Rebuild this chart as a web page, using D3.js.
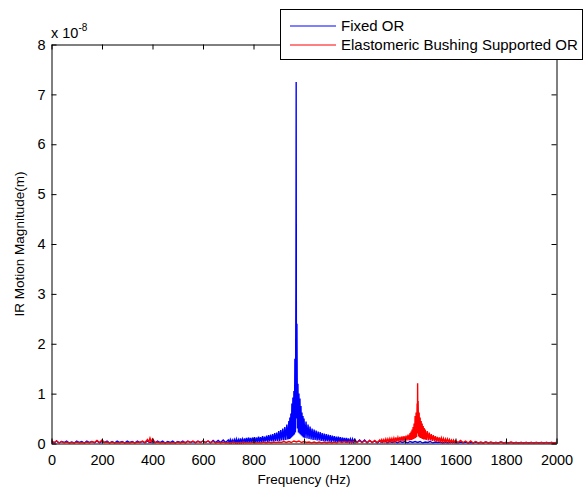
<!DOCTYPE html>
<html>
<head>
<meta charset="utf-8">
<script src="https://cdn.jsdelivr.net/npm/d3@7/dist/d3.min.js"></script>
<style>
  html, body { margin: 0; padding: 0; background: #fff; }
  svg { display: block; font-family: "Liberation Sans", Arial, Helvetica, sans-serif; }
</style>
</head>
<body>
<svg id="chart" width="584" height="489"></svg>
<script>
// Axis ticks (frequency in Hz, magnitude in units of 1e-8 m)
const xTicks = [0, 200, 400, 600, 800, 1000, 1200, 1400, 1600, 1800, 2000];
const yTicks = [0, 1, 2, 3, 4, 5, 6, 7, 8];
const yExponent = "-8";

const seriesNames = ["Fixed OR", "Elastomeric Bushing Supported OR"];
const seriesColors = ["#0000ff", "#ff0000"];

// Fixed outer ring: [frequency (Hz), magnitude (1e-8 m)]
const fixedOR = [
  [0,0.04],[10,0.01],[20,0.05],[30,0.01],[40,0.04],[50,0.02],[60,0.05],[70,0.01],[80,0.03],[90,0.01],
  [100,0.05],[110,0.02],[120,0.04],[130,0.01],[140,0.05],[150,0.02],[160,0.04],[170,0.01],[180,0.05],[190,0.01],
  [200,0.04],[210,0.02],[220,0.05],[230,0.01],[240,0.04],[250,0.01],[260,0.05],[270,0.02],[280,0.04],[290,0.01],
  [300,0.05],[310,0.02],[320,0.04],[330,0.01],[340,0.05],[350,0.02],[360,0.04],[370,0.01],[380,0.05],[390,0.02],
  [400,0.04],[410,0.01],[420,0.05],[430,0.02],[440,0.05],[450,0.01],[460,0.04],[470,0.02],[480,0.05],[490,0.01],
  [500,0.04],[510,0.02],[520,0.05],[530,0.01],[540,0.05],[550,0.02],[560,0.04],[570,0.01],[580,0.05],[590,0.02],
  [600,0.05],[610,0.02],[620,0.05],[630,0.01],[640,0.06],[650,0.02],[660,0.06],[670,0.02],[680,0.07],[690,0.02],
  [700,0.07],[704,0.02],[708,0.08],[712,0.01],[716,0.07],[720,0.02],[724,0.08],[728,0.02],[732,0.09],[736,0.01],
  [740,0.08],[744,0.02],[748,0.10],[752,0.02],[756,0.09],[760,0.02],[764,0.10],[768,0.02],[772,0.11],[776,0.02],
  [780,0.12],[784,0.03],[788,0.11],[792,0.02],[796,0.12],[800,0.03],[804,0.13],[808,0.02],[812,0.12],[816,0.03],
  [820,0.14],[824,0.03],[828,0.13],[832,0.03],[836,0.15],[840,0.03],[844,0.14],[848,0.04],[852,0.16],[856,0.03],
  [860,0.17],[864,0.04],[868,0.18],[872,0.04],[876,0.19],[880,0.04],[884,0.21],[888,0.05],[892,0.22],[896,0.05],
  [900,0.25],[904,0.05],[908,0.27],[912,0.06],[916,0.30],[920,0.06],[924,0.33],[928,0.07],[932,0.38],[936,0.08],
  [940,0.45],[942,0.09],[944,0.52],[946,0.10],[948,0.60],[950,0.12],[952,0.80],[954,0.14],[956,0.92],[958,0.16],
  [960,1.05],[962,0.18],[964,1.70],[966,0.22],[968,3.20],[969,7.25],[970,0.50],[972,2.40],[974,0.30],[976,1.20],
  [978,0.22],[980,1.00],[982,0.20],[984,0.90],[986,0.18],[988,0.75],[990,0.16],[992,0.62],[994,0.14],[996,0.55],
  [998,0.12],[1000,0.50],[1004,0.11],[1008,0.44],[1012,0.10],[1016,0.38],[1020,0.09],[1024,0.34],[1028,0.08],[1032,0.30],
  [1036,0.07],[1040,0.28],[1044,0.07],[1048,0.26],[1052,0.06],[1056,0.24],[1060,0.06],[1064,0.23],[1068,0.05],[1072,0.21],
  [1076,0.05],[1080,0.20],[1084,0.04],[1088,0.19],[1092,0.04],[1096,0.18],[1100,0.04],[1104,0.17],[1108,0.03],[1112,0.16],
  [1116,0.04],[1120,0.15],[1124,0.03],[1128,0.14],[1132,0.03],[1136,0.14],[1140,0.03],[1144,0.13],[1148,0.02],[1152,0.12],
  [1156,0.03],[1160,0.11],[1164,0.02],[1168,0.11],[1172,0.02],[1176,0.10],[1180,0.02],[1184,0.09],[1188,0.02],[1192,0.09],
  [1196,0.02],[1200,0.08],[1210,0.02],[1220,0.07],[1230,0.02],[1240,0.07],[1250,0.01],[1260,0.06],[1270,0.02],[1280,0.05],
  [1290,0.01],[1300,0.05],[1310,0.02],[1320,0.05],[1330,0.01],[1340,0.04],[1350,0.02],[1360,0.04],[1370,0.01],[1380,0.04],
  [1390,0.02],[1400,0.04],[1410,0.01],[1420,0.04],[1430,0.02],[1440,0.04],[1450,0.02],[1460,0.04],[1470,0.01],[1480,0.03],
  [1490,0.02],[1500,0.04],[1510,0.01],[1520,0.03],[1530,0.02],[1540,0.03],[1550,0.01],[1560,0.03],[1570,0.01],[1580,0.03],
  [1590,0.02],[1600,0.03],[1610,0.01],[1620,0.03],[1630,0.01],[1640,0.03],[1650,0.01],[1660,0.02],[1670,0.01],[1680,0.03],
  [1690,0.01],[1700,0.02],[1710,0.01],[1720,0.03],[1730,0.01],[1740,0.02],[1750,0.01],[1760,0.02],[1770,0.01],[1780,0.03],
  [1790,0.01],[1800,0.02],[1810,0.01],[1820,0.02],[1830,0.01],[1840,0.02],[1850,0.01],[1860,0.02],[1870,0.01],[1880,0.02],
  [1890,0.01],[1900,0.02],[1910,0.01],[1920,0.02],[1930,0.01],[1940,0.02],[1950,0.01],[1960,0.02],[1970,0.01],[1980,0.02],
  [1990,0.01],[2000,0.02]
];

// Outer ring on elastomeric bushings: [frequency (Hz), magnitude (1e-8 m)]
const bushingOR = [
  [0,0.06],[10,0.02],[20,0.05],[30,0.01],[40,0.04],[50,0.01],[60,0.03],[70,0.01],[80,0.02],[90,0.01],
  [100,0.03],[110,0.01],[120,0.02],[130,0.01],[140,0.03],[150,0.01],[160,0.04],[170,0.02],[180,0.06],[190,0.02],
  [200,0.07],[210,0.02],[220,0.03],[230,0.01],[240,0.03],[250,0.01],[260,0.02],[270,0.01],[280,0.03],[290,0.01],
  [300,0.02],[310,0.01],[320,0.03],[330,0.01],[340,0.03],[350,0.02],[360,0.05],[370,0.02],[380,0.08],[385,0.03],
  [390,0.11],[395,0.03],[400,0.09],[410,0.02],[420,0.03],[430,0.01],[440,0.02],[450,0.01],[460,0.02],[470,0.01],
  [480,0.02],[490,0.01],[500,0.03],[510,0.01],[520,0.03],[530,0.02],[540,0.04],[550,0.02],[560,0.05],[570,0.02],
  [580,0.04],[590,0.02],[600,0.05],[610,0.02],[620,0.05],[630,0.02],[640,0.04],[650,0.01],[660,0.03],[670,0.01],
  [680,0.03],[690,0.01],[700,0.02],[710,0.01],[720,0.03],[730,0.01],[740,0.02],[750,0.01],[760,0.03],[770,0.01],
  [780,0.02],[790,0.01],[800,0.03],[810,0.01],[820,0.02],[830,0.01],[840,0.03],[850,0.01],[860,0.03],[870,0.01],
  [880,0.03],[890,0.02],[900,0.03],[910,0.02],[920,0.04],[930,0.02],[940,0.04],[950,0.02],[960,0.05],[970,0.03],
  [980,0.05],[990,0.02],[1000,0.04],[1010,0.02],[1020,0.03],[1030,0.01],[1040,0.03],[1050,0.01],[1060,0.03],[1070,0.01],
  [1080,0.03],[1090,0.01],[1100,0.03],[1110,0.01],[1120,0.03],[1130,0.01],[1140,0.04],[1150,0.02],[1160,0.04],[1170,0.02],
  [1180,0.04],[1190,0.02],[1200,0.05],[1210,0.02],[1220,0.05],[1230,0.02],[1240,0.05],[1250,0.02],[1260,0.06],[1270,0.02],
  [1280,0.06],[1290,0.02],[1300,0.07],[1304,0.03],[1308,0.08],[1312,0.03],[1316,0.08],[1320,0.03],[1324,0.09],[1328,0.03],
  [1332,0.09],[1336,0.03],[1340,0.10],[1344,0.04],[1348,0.10],[1352,0.04],[1356,0.11],[1360,0.04],[1364,0.12],[1368,0.04],
  [1372,0.12],[1376,0.05],[1380,0.13],[1384,0.05],[1388,0.14],[1392,0.05],[1396,0.15],[1400,0.05],[1404,0.16],[1408,0.06],
  [1412,0.18],[1416,0.06],[1420,0.21],[1422,0.07],[1424,0.24],[1426,0.07],[1428,0.28],[1430,0.08],[1432,0.33],[1434,0.09],
  [1436,0.40],[1438,0.10],[1440,0.55],[1442,0.11],[1444,0.62],[1446,0.13],[1448,0.80],[1449,0.20],[1450,1.21],[1451,0.25],
  [1452,0.85],[1454,0.14],[1456,0.62],[1458,0.12],[1460,0.52],[1462,0.11],[1464,0.45],[1466,0.10],[1468,0.40],[1470,0.09],
  [1472,0.35],[1474,0.08],[1476,0.31],[1478,0.08],[1480,0.28],[1484,0.07],[1488,0.25],[1492,0.06],[1496,0.22],[1500,0.06],
  [1504,0.19],[1508,0.05],[1512,0.17],[1516,0.05],[1520,0.15],[1524,0.04],[1528,0.13],[1532,0.04],[1536,0.12],[1540,0.04],
  [1544,0.11],[1548,0.03],[1552,0.10],[1556,0.03],[1560,0.09],[1564,0.03],[1568,0.09],[1572,0.03],[1576,0.08],[1580,0.02],
  [1584,0.07],[1588,0.02],[1592,0.07],[1596,0.02],[1600,0.06],[1610,0.02],[1620,0.06],[1630,0.02],[1640,0.05],[1650,0.01],
  [1660,0.05],[1670,0.01],[1680,0.04],[1690,0.01],[1700,0.03],[1710,0.01],[1720,0.03],[1730,0.01],[1740,0.03],[1750,0.01],
  [1760,0.02],[1770,0.01],[1780,0.03],[1790,0.01],[1800,0.02],[1810,0.01],[1820,0.03],[1830,0.01],[1840,0.02],[1850,0.01],
  [1860,0.02],[1870,0.01],[1880,0.02],[1890,0.01],[1900,0.02],[1910,0.01],[1920,0.02],[1930,0.01],[1940,0.02],[1950,0.01],
  [1960,0.02],[1970,0.01],[1980,0.02],[1990,0.01],[2000,0.02]
];

const svg = d3.select("#chart");
const plot = { left: 51.5, right: 556.5, top: 44.5, bottom: 443.5 };
const tickFont = 14.5;
const labelFont = 13.5;
const legendFont = 15;
const tickLen = 5;

const x = d3.scaleLinear().domain([0, 2000]).range([plot.left, plot.right]);
const y = d3.scaleLinear().domain([0, 8]).range([plot.bottom, plot.top]);

svg.append("defs").append("clipPath").attr("id", "plot-clip")
  .append("rect")
  .attr("x", plot.left).attr("y", plot.top)
  .attr("width", plot.right - plot.left).attr("height", plot.bottom - plot.top);

// Spectra: fixed ring first, bushing-supported ring on top
const line = d3.line().x(d => x(d[0])).y(d => y(d[1]));
const dataGroup = svg.append("g").attr("clip-path", "url(#plot-clip)");
[fixedOR, bushingOR].forEach((series, i) => {
  dataGroup.append("path")
    .datum(series)
    .attr("d", line)
    .attr("fill", "none")
    .attr("stroke", seriesColors[i])
    .attr("stroke-width", 1.4)
    .attr("stroke-linejoin", "miter");
});

// Axes box with inward ticks on all four sides
function styleAxis(g) {
  g.selectAll(".domain").attr("stroke", "#000").attr("stroke-width", 1);
  g.selectAll(".tick line").attr("stroke", "#000").attr("stroke-width", 1);
  g.selectAll(".tick text").attr("fill", "#000").style("font-size", tickFont + "px")
    .style("font-family", '"Liberation Sans", Arial, sans-serif');
}

const intFormat = d3.format("d");

svg.append("g").attr("transform", `translate(0,${plot.bottom})`)
  .call(d3.axisBottom(x).tickValues(xTicks).tickSizeInner(-tickLen).tickSizeOuter(0).tickPadding(11).tickFormat(intFormat))
  .call(styleAxis);

svg.append("g").attr("transform", `translate(0,${plot.top})`)
  .call(d3.axisTop(x).tickValues(xTicks).tickSizeInner(-tickLen).tickSizeOuter(0).tickFormat(""))
  .call(styleAxis);

svg.append("g").attr("transform", `translate(${plot.left},0)`)
  .call(d3.axisLeft(y).tickValues(yTicks).tickSizeInner(-tickLen).tickSizeOuter(0).tickPadding(6).tickFormat(intFormat))
  .call(styleAxis);

svg.append("g").attr("transform", `translate(${plot.right},0)`)
  .call(d3.axisRight(y).tickValues(yTicks).tickSizeInner(-tickLen).tickSizeOuter(0).tickFormat(""))
  .call(styleAxis);

// Exponent note above the y axis
const expText = svg.append("text")
  .attr("x", 51).attr("y", 38)
  .style("font-size", tickFont + "px").attr("fill", "#000");
expText.append("tspan").text("x 10");
expText.append("tspan").attr("dy", -7).style("font-size", "10px").text(yExponent);

// Axis labels
svg.append("text")
  .attr("x", (plot.left + plot.right) / 2).attr("y", 484)
  .attr("text-anchor", "middle")
  .style("font-size", labelFont + "px").attr("fill", "#000")
  .text("Frequency (Hz)");

svg.append("text")
  .attr("transform", `translate(24,${(plot.top + plot.bottom) / 2}) rotate(-90)`)
  .attr("text-anchor", "middle")
  .style("font-size", labelFont + "px").attr("fill", "#000")
  .text("IR Motion Magnitude(m)");

// Legend
const legend = svg.append("g");
legend.append("rect")
  .attr("x", 280.5).attr("y", 9.5).attr("width", 302).attr("height", 50)
  .attr("fill", "#fff").attr("stroke", "#000").attr("stroke-width", 1);
seriesNames.forEach((name, i) => {
  const ly = 26 + i * 19;
  legend.append("line")
    .attr("x1", 290).attr("x2", 336).attr("y1", ly).attr("y2", ly)
    .attr("stroke", seriesColors[i]).attr("stroke-width", 1);
  legend.append("text")
    .attr("x", 341).attr("y", ly).attr("dy", "0.35em")
    .style("font-size", legendFont + "px").attr("fill", "#000")
    .text(name);
});
</script>
</body>
</html>
